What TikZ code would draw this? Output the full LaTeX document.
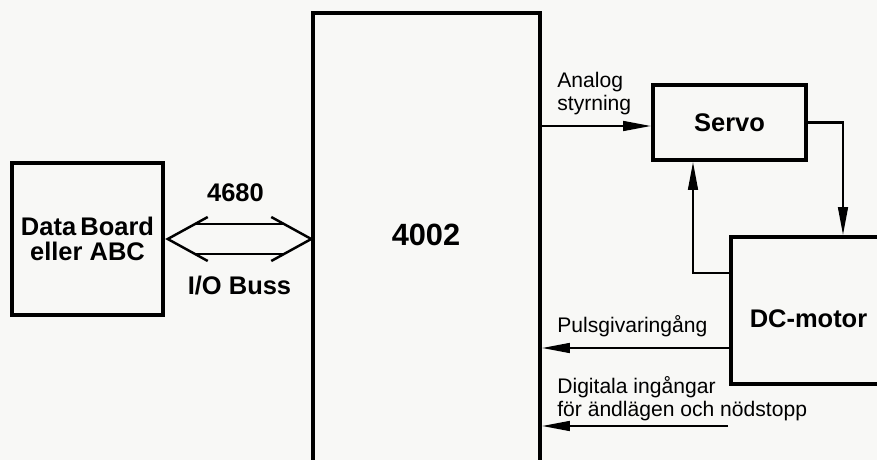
\documentclass[tikz,border=0pt]{standalone}
\usepackage{fontspec}
\setmainfont{Liberation Sans}
\usetikzlibrary{
    arrows.meta,
    calc,
    positioning
}
\definecolor{paper}{RGB}{248,248,246}

\begin{document}
\begin{tikzpicture}[x=0.02cm, y=-0.02cm, >={Triangle[length=16pt, width=5.5pt]},
    block/.style={draw, line width=2pt, inner sep=0pt, align=center,
        font=\bfseries\fontsize{14.5}{14.5}\selectfont},
    wire/.style={line width=1.4pt},
    buslbl/.style={inner sep=0pt, font=\bfseries\fontsize{14.5}{14.5}\selectfont},
    lbl/.style={inner sep=0pt, align=left, font=\fontsize{12}{13}\selectfont}]
    \useasboundingbox (0,0) rectangle (877,460);
    \fill[paper] (0,0) rectangle (877,460);
    \clip (0,0) rectangle (877,460);
    % blocks
    \node[block, minimum width=3.02cm, minimum height=3.04cm] (board) at (87.5,239) {Data\,Board\\eller ABC};
    \node[block, minimum width=4.54cm, minimum height=9.34cm] (cpu) at (426.5,246.5) {};
    \node[inner sep=0pt, font=\bfseries\fontsize{17.5}{18}\selectfont] (cpulbl) at (426,235) {4002};
    \node[block, minimum width=3.06cm, minimum height=1.5cm] (servo) at (729.5,122.5) {Servo};
    \node[block, minimum width=3.1cm, minimum height=2.94cm] (motor) at (808.5,310.5) {};
    \node[buslbl] (motorlbl) at (808.5,319) {DC-motor};
    % I/O bus, hollow double arrow
    \coordinate (busL) at ($(board.east)+(3,0)$);
    \coordinate (busR) at (busL -| cpu.west);
    \draw[wire] ($(busL)+(40,-22)$) -- (busL) -- ($(busL)+(40,22)$);
    \draw[wire] ($(busR)+(-40,-22)$) -- (busR) -- ($(busR)+(-40,22)$);
    \draw[wire] ($(busL)+(27,-15)$) -- ($(busR)+(-27,-15)$);
    \draw[wire] ($(busL)+(27,15)$) -- ($(busR)+(-27,15)$);
    \node[buslbl] (busno) at ($(busL)!0.5!(busR)+(-4,-46)$) {4680};
    \node[buslbl] (busname) at ($(busL)!0.5!(busR)+(0,47)$) {I/O Buss};
    % control loop
    \coordinate (analog) at (0,126);
    \draw[wire, ->] (analog -| cpu.east) -- (analog -| servo.west);
    \coordinate (drop) at (843,0);
    \draw[wire, ->] (servo.east) -| (drop |- motor.north);
    \coordinate (fb) at (693,273);
    \draw[wire, ->] (fb -| motor.west) -| (fb |- servo.south);
    % inputs back to the 4002
    \coordinate (pulse) at (0,348);
    \draw[wire, ->] (pulse -| motor.west) -- (pulse -| cpu.east);
    \coordinate (limits) at (728,426);
    \draw[wire, ->] (limits) -- (limits -| cpu.east);
    % labels
    \node[lbl, anchor=north west] (analoglbl) at (557,72) {Analog\\styrning};
    \node[lbl, anchor=base west] (pulselbl) at (557,332) {Pulsgivaringång};
    \node[lbl, anchor=north west] (limitlbl) at (557,376) {Digitala ingångar\\för ändlägen och nödstopp};
\end{tikzpicture}
\end{document}
